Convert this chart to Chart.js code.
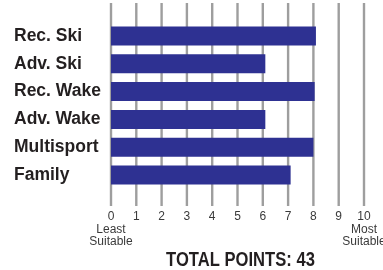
<!DOCTYPE html>
<html>
<head>
<meta charset="utf-8">
<script src="https://cdn.jsdelivr.net/npm/chart.js@4/dist/chart.umd.min.js"></script>
<style>
    body { margin: 0; background: #ffffff; }
</style>
</head>
<body>
<canvas id="chart" width="383" height="270"></canvas>
<script>
// Boat categories, top to bottom
let categories = ['Rec. Ski', 'Adv. Ski', 'Rec. Wake', 'Adv. Wake', 'Multisport', 'Family'];

// Suitability score for each category
let scores = [8.1, 6.1, 8.05, 6.1, 8.0, 7.1];

// Axis end notes under the 0 and 10 ticks
let lowNote = ['Least', 'Suitable'];
let highNote = ['Most', 'Suitable'];

let totalText = 'TOTAL POINTS: 43';

// Draws the full height grey lines behind the bars
// (they run above the plot and down into the tick area)
const fullGrid = {
    id: 'fullGrid',
    beforeDatasetsDraw(chart) {
        let x = chart.scales.x;
        let ctx = chart.ctx;
        ctx.save();
        ctx.strokeStyle = '#9e9e9e';
        ctx.lineWidth = 2.4;
        x.ticks.forEach(t => {
            let px = x.getPixelForValue(t.value);
            ctx.beginPath();
            ctx.moveTo(px, 3);
            ctx.lineTo(px, 206);
            ctx.stroke();
        });
        ctx.restore();
    }
};

// Condensed bold total under the axis (no narrow font installed,
// so squeeze a normal bold one horizontally)
const totalLabel = {
    id: 'totalLabel',
    afterDraw(chart) {
        let x = chart.scales.x;
        let ctx = chart.ctx;
        let cx = (x.left + x.right) / 2 + 3;
        ctx.save();
        ctx.translate(cx, 260);
        ctx.scale(0.81, 1);
        ctx.font = "bold 20.5px 'Liberation Sans', Arial, sans-serif";
        ctx.fillStyle = '#231f20';
        ctx.textAlign = 'center';
        ctx.textBaseline = 'middle';
        ctx.fillText(totalText, 0, 0);
        ctx.restore();
    }
};

let ctx = document.getElementById('chart');

new Chart(ctx, {
    type: 'bar',
    data: {
        labels: categories,
        datasets: [{
            data: scores,
            backgroundColor: '#2e3192',
            barPercentage: 0.68,
            categoryPercentage: 1
        }]
    },
    options: {
        indexAxis: 'y',
        responsive: false,
        animation: false,
        layout: {
            padding: { top: 22, left: 14, right: 19, bottom: 0 }
        },
        plugins: {
            legend: { display: false },
            tooltip: { enabled: false }
        },
        scales: {
            x: {
                min: 0,
                max: 10,
                grid: { display: false },
                border: { display: false },
                ticks: {
                    stepSize: 1,
                    autoSkip: false,
                    maxRotation: 0,
                    minRotation: 0,
                    padding: 13.5,
                    color: '#3a3a3a',
                    font: { family: "'Liberation Sans', Arial, sans-serif", size: 12, lineHeight: 1.05 },
                    callback: function (value) {
                        if (value === 0) return [String(value)].concat(lowNote);
                        if (value === 10) return [String(value)].concat(highNote);
                        return String(value);
                    }
                },
                afterFit: function (s) {
                    s.height = 81;
                    s.paddingLeft = 0;
                    s.paddingRight = 0;
                }
            },
            y: {
                grid: { display: false },
                border: { display: false },
                ticks: {
                    crossAlign: 'far',
                    color: '#231f20',
                    font: { family: "'Liberation Sans', Arial, sans-serif", size: 17.5, weight: 'bold' }
                },
                afterFit: function (s) {
                    s.width = 97;
                }
            }
        }
    },
    plugins: [fullGrid, totalLabel]
});
</script>
</body>
</html>
